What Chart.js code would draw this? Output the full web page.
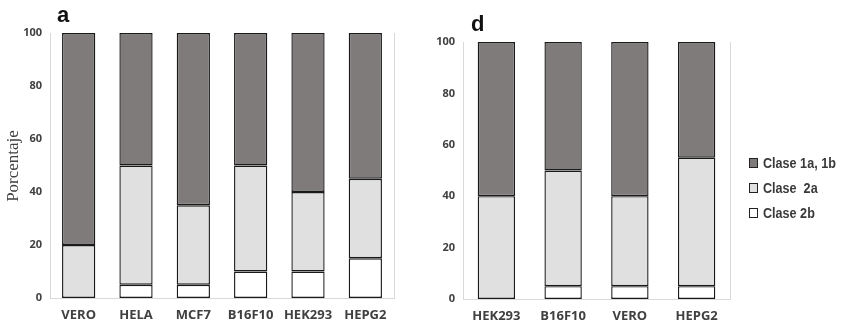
<!DOCTYPE html>
<html><head><meta charset="utf-8">
<script src="https://cdn.jsdelivr.net/npm/chart.js@4"></script>
<style>
html,body{margin:0;padding:0;background:#fff;}
#wrap{position:relative;width:844px;height:331px;overflow:hidden;}
#boxA{position:absolute;left:0;top:0;width:420px;height:331px;}
#boxD{position:absolute;left:420px;top:0;width:424px;height:331px;}
#legend{position:absolute;left:749px;top:154px;font-family:"Liberation Sans",Arial,sans-serif;font-weight:bold;font-size:15px;color:#3a3a3a;}
#legend div{height:25px;line-height:18px;white-space:nowrap;}
#legend span.sq{display:inline-block;width:7px;height:8px;border:1.3px solid #222;margin-right:5px;vertical-align:0px;}
#legend span.t{display:inline-block;transform:scaleX(0.84);transform-origin:0 50%;}
</style></head>
<body><div id="wrap">
<div id="boxA"><canvas id="cA"></canvas></div>
<div id="boxD"><canvas id="cD"></canvas></div>
<div id="legend">
<div><span class="sq" style="background:#7f7b7a"></span><span class="t">Clase 1a, 1b</span></div>
<div><span class="sq" style="background:#e0e0e0"></span><span class="t">Clase&nbsp; 2a</span></div>
<div><span class="sq" style="background:#ffffff"></span><span class="t">Clase 2b</span></div>
</div>
</div>
<script>
// Panel a
const catsA = ["VERO","HELA","MCF7","B16F10","HEK293","HEPG2"];
const c2bA = [0,5,5,10,10,15];
const c2aA = [20,45,30,40,30,30];
const c1A  = [80,50,65,50,60,55];
// Panel d
const catsD = ["HEK293","B16F10","VERO","HEPG2"];
const c2bD = [0,5,5,5];
const c2aD = [40,45,35,50];
const c1D  = [60,50,60,45];
const yTicks = [0,20,40,60,80,100];
const seriesNames = ["Clase 2b","Clase  2a","Clase 1a, 1b"];
const colors = ["#ffffff","#e0e0e0","#7f7b7a"];

const tickFont = {family:"'Open Sans', sans-serif", weight:"bold", size:11};
const xFont = {family:"'Open Sans', sans-serif", weight:"bold", size:13};

const frame = {
  id:'frame',
  afterDraw(chart, args, opts){
    const {ctx, chartArea:a} = chart;
    ctx.save();
    ctx.strokeStyle = '#d9d9d9'; ctx.lineWidth = 1;
    ctx.beginPath(); ctx.moveTo(a.right+0.5, a.top); ctx.lineTo(a.right+0.5, a.bottom); ctx.stroke();
    ctx.fillStyle = '#111';
    ctx.font = "bold 22px 'Liberation Sans', Arial, sans-serif";
    ctx.textBaseline = 'alphabetic';
    ctx.fillText(opts.letter, opts.lx, opts.ly);
    if (opts.ytitle){
      ctx.translate(opts.tx, opts.ty);
      ctx.rotate(-Math.PI/2);
      ctx.textAlign='center'; ctx.textBaseline='middle';
      ctx.fillStyle='#404040';
      ctx.font = "17px 'Liberation Serif', 'DejaVu Serif', serif";
      ctx.fillText(opts.ytitle, 0, 0);
    }
    ctx.restore();
  }
};

function make(id, cats, d2b, d2a, d1, yw, pad, bp, fr){
  const data = [d2b,d2a,d1];
  return new Chart(document.getElementById(id), {
    type:'bar',
    data:{labels:cats, datasets:data.map((v,i)=>({
      label:seriesNames[i], data:v, backgroundColor:colors[i],
      borderColor:'#1a1a1a', borderWidth:1.4, borderSkipped:false,
      barPercentage:bp, categoryPercentage:1
    }))},
    options:{
      responsive:true, maintainAspectRatio:false, animation:false,
      layout:{padding:pad},
      plugins:{legend:{display:false}, tooltip:{enabled:false}, frame:fr},
      scales:{
        x:{stacked:true, grid:{display:false, drawTicks:false},
           border:{display:true,color:'#d9d9d9'},
           ticks:{font:xFont, color:'#404040', padding:9, maxRotation:0, autoSkip:false},
           afterFit(s){ s.height = 331 - pad.top - (pad.plotH); }
        },
        y:{stacked:true, min:0, max:100,
           afterBuildTicks(s){ s.ticks = yTicks.map(v=>({value:v})); },
           grid:{display:false, drawTicks:false},
           border:{display:true,color:'#d9d9d9'},
           ticks:{font:tickFont, color:'#404040', padding:8},
           afterFit(s){ s.width = yw; }
        }
      }
    },
    plugins:[frame]
  });
}
make('cA', catsA, c2bA, c2aA, c1A, 50, {top:33,left:0,right:26,bottom:0,plotH:265}, 0.58,
  {letter:'a', lx:57, ly:22, ytitle:'Porcentaje', tx:14, ty:166});
make('cD', catsD, c2bD, c2aD, c1D, 43, {top:42,left:0,right:114,bottom:0,plotH:257}, 0.56,
  {letter:'d', lx:51, ly:31});
</script>
</body></html>
